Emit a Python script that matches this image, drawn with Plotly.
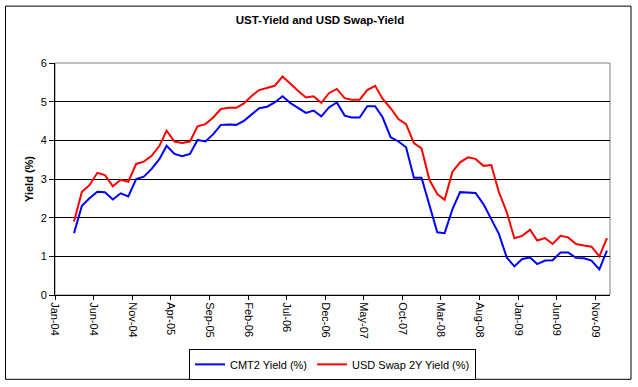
import plotly.graph_objects as go
import pandas as pd

# Month-end style observations, Mar-2004 .. Dec-2009 (70 months)
months = pd.date_range("2004-03-01", periods=70, freq="MS") + pd.Timedelta(days=15)

cmt2_yield = [1.60, 2.31, 2.50, 2.67, 2.66, 2.47, 2.63, 2.55, 3.00, 3.06,
              3.26, 3.52, 3.86, 3.65, 3.59, 3.65, 4.01, 3.97, 4.16, 4.40,
              4.41, 4.40, 4.51, 4.68, 4.83, 4.87, 4.98, 5.14, 4.97, 4.84,
              4.71, 4.77, 4.62, 4.85, 4.98, 4.64, 4.59, 4.59, 4.88, 4.88,
              4.59, 4.08, 3.97, 3.82, 3.03, 3.03, 2.31, 1.62, 1.60, 2.22,
              2.66, 2.64, 2.64, 2.35, 1.97, 1.58, 0.97, 0.74, 0.93, 0.97,
              0.80, 0.89, 0.90, 1.10, 1.10, 0.96, 0.95, 0.89, 0.66, 1.15]

swap2y_yield = [1.90, 2.67, 2.84, 3.16, 3.10, 2.81, 2.98, 2.93, 3.39, 3.45,
                3.60, 3.86, 4.25, 3.97, 3.93, 3.97, 4.36, 4.42, 4.59, 4.81,
                4.84, 4.84, 4.96, 5.16, 5.30, 5.35, 5.41, 5.65, 5.46, 5.28,
                5.11, 5.14, 4.97, 5.22, 5.33, 5.09, 5.05, 5.05, 5.30, 5.41,
                5.07, 4.83, 4.55, 4.42, 3.93, 3.79, 2.98, 2.61, 2.46, 3.19,
                3.43, 3.56, 3.52, 3.34, 3.36, 2.66, 2.14, 1.47, 1.53, 1.69,
                1.41, 1.47, 1.32, 1.53, 1.49, 1.32, 1.28, 1.25, 1.00, 1.47]

series_names = ["CMT2 Yield (%)", "USD Swap 2Y Yield (%)"]
title_text = "UST-Yield and USD Swap-Yield"
y_title = "Yield (%)"

FONT = "Arial, Liberation Sans, sans-serif"
W, H = 638, 387
PL, PR, PT, PB = 55, 610, 62.5, 295  # plot area in pixels

fig = go.Figure()
fig.add_trace(go.Scatter(x=months, y=cmt2_yield, mode="lines", name=series_names[0],
                         line=dict(color="#0000FF", width=2)))
fig.add_trace(go.Scatter(x=months, y=swap2y_yield, mode="lines", name=series_names[1],
                         line=dict(color="#FF0000", width=2)))

def px_x(x):
    return (x - PL) / (PR - PL)

def px_y(y):
    return (PB - y) / (PB - PT)

shapes = [
    # outer chart frame
    dict(type="rect", xref="paper", yref="paper",
         x0=px_x(5.5), x1=px_x(631), y0=px_y(379.5), y1=px_y(5.5),
         line=dict(color="black", width=1), layer="below"),
    # plot area border (grey)
    dict(type="rect", xref="paper", yref="paper", x0=0, x1=1, y0=0, y1=1,
         line=dict(color="#808080", width=1), layer="below"),
]

fig.update_layout(
    width=W, height=H,
    margin=dict(l=PL, r=W - PR, t=PT, b=H - PB, pad=0, autoexpand=False),
    paper_bgcolor="white", plot_bgcolor="white",
    font=dict(family=FONT, size=11, color="black"),
    title=dict(text="<b>" + title_text + "</b>", font=dict(family=FONT, size=11.5, color="black"),
               x=320 / W, xanchor="center", xref="container",
               y=1 - 20 / H, yanchor="middle", yref="container", automargin=False),
    showlegend=True,
    legend=dict(orientation="h", x=px_x(332.5), xanchor="center",
                y=px_y(349), yanchor="top",
                bordercolor="black", borderwidth=1, bgcolor="white",
                font=dict(family=FONT, size=11, color="black"),
                itemwidth=30, tracegroupgap=0),
    shapes=shapes,
)

fig.update_xaxes(
    type="date", range=["2004-01-01", "2009-12-28"],
    tick0="2004-01-01", dtick="M5", tickformat="%b-%y",
    tickangle=90, ticks="outside", ticklen=4, tickcolor="black",
    showline=True, linecolor="black", linewidth=1,
    showgrid=False, zeroline=False, automargin=False,
    tickfont=dict(family=FONT, size=11, color="black"),
)
fig.update_yaxes(
    range=[0, 6], dtick=1, tick0=0,
    ticks="outside", ticklen=5, tickcolor="black",
    showline=True, linecolor="black", linewidth=1,
    showgrid=True, gridcolor="black", gridwidth=1, zeroline=False, automargin=False,
    tickfont=dict(family=FONT, size=11, color="black"),
    title=dict(text="<b>" + y_title + "</b>", font=dict(family=FONT, size=11, color="black"),
               standoff=4),
)

fig.write_html("out.html", config={"displayModeBar": False},
               post_script="document.body.style.margin='0';document.body.style.overflow='hidden';")
